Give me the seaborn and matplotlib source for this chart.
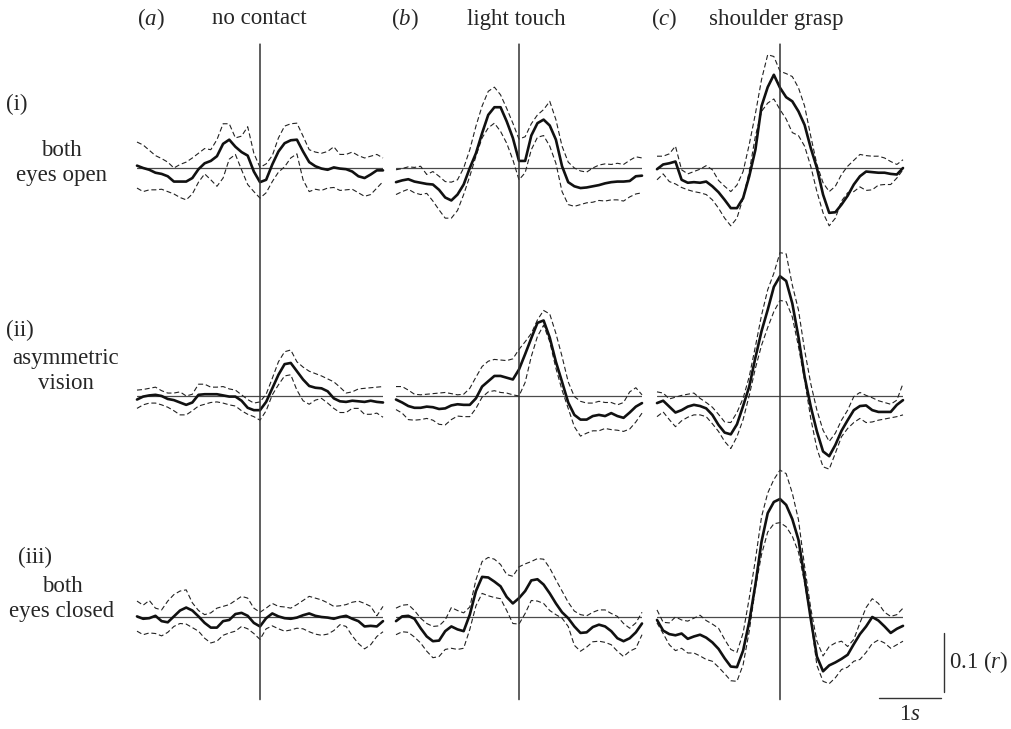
import numpy as np
import matplotlib
matplotlib.use('Agg')
import matplotlib.pyplot as plt
from matplotlib.patches import ConnectionPatch
import seaborn as sns

# lag axis, -2 s .. +2 s in 0.1 s steps
lags = np.round(np.linspace(-2, 2, 41), 1)

contacts = ['no contact', 'light touch', 'shoulder grasp']
contact_tags = ['a', 'b', 'c']
visions = ['both\neyes open', 'asymmetric\nvision', 'both\neyes closed']
vision_tags = ['(i)', '(ii)', '(iii)']

# correlation (r) per lag: mean and upper / lower confidence bounds
a_i_mean = [0.004, 0.000, -0.003, -0.008, -0.010, -0.014, -0.023, -0.023, -0.023, -0.017, -0.002, 0.008, 0.012, 0.020, 0.041, 0.048, 0.036, 0.027, 0.021, -0.006, -0.024, -0.020, 0.006, 0.028, 0.042, 0.047, 0.048, 0.028, 0.010, 0.003, -0.001, -0.003, 0.001, -0.001, -0.002, -0.006, -0.014, -0.017, -0.011, -0.004, -0.004]
a_i_hi = [0.044, 0.039, 0.030, 0.021, 0.016, 0.010, 0.000, 0.006, 0.010, 0.017, 0.025, 0.033, 0.031, 0.048, 0.075, 0.075, 0.051, 0.054, 0.070, 0.025, 0.001, 0.007, 0.021, 0.051, 0.071, 0.075, 0.076, 0.054, 0.031, 0.027, 0.025, 0.028, 0.036, 0.023, 0.023, 0.027, 0.021, 0.017, 0.020, 0.023, 0.017]
a_i_lo = [-0.034, -0.040, -0.037, -0.037, -0.036, -0.040, -0.044, -0.050, -0.054, -0.044, -0.024, -0.010, -0.020, -0.031, -0.017, 0.015, 0.023, -0.003, -0.028, -0.040, -0.051, -0.042, -0.023, -0.007, 0.002, 0.017, 0.024, -0.020, -0.040, -0.036, -0.038, -0.034, -0.033, -0.038, -0.037, -0.036, -0.042, -0.048, -0.045, -0.034, -0.023]

b_i_mean = [-0.024, -0.021, -0.019, -0.023, -0.025, -0.027, -0.028, -0.037, -0.050, -0.055, -0.045, -0.028, 0.000, 0.025, 0.059, 0.090, 0.103, 0.103, 0.079, 0.051, 0.012, 0.012, 0.055, 0.076, 0.082, 0.072, 0.048, 0.003, -0.024, -0.031, -0.034, -0.033, -0.031, -0.029, -0.026, -0.024, -0.023, -0.023, -0.022, -0.014, -0.013]
b_i_hi = [-0.003, -0.001, 0.002, 0.001, 0.003, -0.011, -0.006, -0.014, -0.023, -0.024, -0.020, 0.000, 0.031, 0.071, 0.105, 0.130, 0.137, 0.124, 0.101, 0.076, 0.049, 0.053, 0.075, 0.090, 0.099, 0.113, 0.082, 0.037, 0.010, 0.000, -0.005, -0.007, 0.000, 0.005, 0.007, 0.006, 0.008, 0.006, 0.013, 0.019, 0.017]
b_i_lo = [-0.045, -0.040, -0.036, -0.042, -0.045, -0.043, -0.056, -0.071, -0.085, -0.085, -0.072, -0.045, -0.014, 0.020, 0.051, 0.068, 0.076, 0.062, 0.042, 0.014, -0.020, -0.008, 0.031, 0.052, 0.055, 0.037, 0.008, -0.040, -0.062, -0.065, -0.062, -0.059, -0.058, -0.055, -0.056, -0.054, -0.054, -0.056, -0.049, -0.044, -0.042]

c_i_mean = [-0.002, 0.006, 0.008, 0.011, -0.020, -0.025, -0.024, -0.025, -0.023, -0.031, -0.041, -0.054, -0.068, -0.068, -0.051, -0.014, 0.031, 0.105, 0.137, 0.158, 0.136, 0.120, 0.113, 0.096, 0.073, 0.034, 0.000, -0.045, -0.076, -0.075, -0.062, -0.047, -0.028, -0.014, -0.006, -0.007, -0.008, -0.008, -0.010, -0.011, 0.000]
c_i_hi = [0.020, 0.020, 0.024, 0.037, -0.003, -0.010, -0.006, -0.002, 0.004, -0.003, -0.021, -0.031, -0.040, -0.029, -0.006, 0.040, 0.092, 0.150, 0.192, 0.189, 0.164, 0.160, 0.155, 0.136, 0.105, 0.054, 0.006, -0.025, -0.040, -0.031, -0.011, 0.003, 0.013, 0.023, 0.021, 0.020, 0.020, 0.017, 0.011, 0.006, 0.014]
c_i_lo = [-0.020, -0.010, -0.023, -0.027, -0.033, -0.037, -0.040, -0.042, -0.045, -0.054, -0.068, -0.085, -0.098, -0.085, -0.051, -0.006, 0.054, 0.096, 0.110, 0.117, 0.099, 0.083, 0.060, 0.055, 0.037, 0.003, -0.040, -0.076, -0.098, -0.085, -0.056, -0.042, -0.040, -0.032, -0.038, -0.037, -0.029, -0.028, -0.028, -0.017, -0.003]

a_ii_mean = [-0.006, -0.001, 0.001, 0.002, 0.000, -0.005, -0.007, -0.011, -0.015, -0.011, 0.002, 0.003, 0.003, 0.003, 0.001, -0.001, -0.001, -0.008, -0.020, -0.024, -0.024, -0.010, 0.013, 0.036, 0.054, 0.056, 0.042, 0.028, 0.017, 0.014, 0.013, 0.008, -0.004, -0.009, -0.010, -0.008, -0.009, -0.010, -0.008, -0.010, -0.011]
a_ii_hi = [0.010, 0.011, 0.013, 0.015, 0.009, 0.005, 0.005, 0.007, 0.000, 0.003, 0.020, 0.020, 0.015, 0.015, 0.016, 0.012, 0.010, 0.002, -0.006, -0.012, -0.010, 0.003, 0.030, 0.058, 0.075, 0.078, 0.058, 0.049, 0.042, 0.038, 0.034, 0.029, 0.024, 0.015, 0.005, 0.007, 0.012, 0.013, 0.014, 0.015, 0.016]
a_ii_lo = [-0.021, -0.015, -0.012, -0.012, -0.015, -0.019, -0.025, -0.032, -0.032, -0.025, -0.017, -0.014, -0.011, -0.010, -0.012, -0.015, -0.017, -0.025, -0.031, -0.035, -0.041, -0.025, 0.002, 0.019, 0.034, 0.036, 0.010, -0.008, -0.014, -0.007, -0.004, -0.012, -0.021, -0.028, -0.028, -0.021, -0.021, -0.031, -0.031, -0.029, -0.036]

b_ii_mean = [-0.006, -0.011, -0.017, -0.020, -0.020, -0.018, -0.019, -0.022, -0.021, -0.016, -0.014, -0.015, -0.015, -0.004, 0.016, 0.025, 0.034, 0.034, 0.031, 0.028, 0.045, 0.071, 0.098, 0.124, 0.128, 0.099, 0.058, 0.024, -0.011, -0.032, -0.040, -0.040, -0.034, -0.032, -0.034, -0.029, -0.034, -0.037, -0.028, -0.018, -0.012]
b_ii_hi = [0.016, 0.016, 0.010, 0.003, 0.002, 0.003, 0.004, 0.005, 0.006, 0.004, 0.002, 0.003, 0.013, 0.032, 0.050, 0.059, 0.062, 0.061, 0.060, 0.063, 0.079, 0.092, 0.106, 0.129, 0.145, 0.139, 0.106, 0.067, 0.024, -0.001, -0.009, -0.012, -0.012, -0.009, -0.011, -0.011, -0.015, -0.011, 0.007, 0.014, 0.002]
b_ii_lo = [-0.023, -0.029, -0.040, -0.041, -0.040, -0.038, -0.041, -0.048, -0.049, -0.040, -0.034, -0.035, -0.035, -0.021, -0.002, 0.007, 0.009, 0.006, 0.005, 0.002, 0.000, 0.023, 0.067, 0.101, 0.120, 0.092, 0.047, 0.010, -0.021, -0.052, -0.068, -0.063, -0.059, -0.059, -0.055, -0.057, -0.058, -0.060, -0.056, -0.044, -0.029]

c_ii_mean = [-0.012, -0.008, -0.018, -0.028, -0.024, -0.018, -0.015, -0.017, -0.021, -0.032, -0.049, -0.062, -0.065, -0.048, -0.017, 0.016, 0.065, 0.110, 0.146, 0.185, 0.203, 0.195, 0.157, 0.100, 0.033, -0.018, -0.060, -0.094, -0.102, -0.083, -0.059, -0.041, -0.024, -0.017, -0.016, -0.024, -0.027, -0.027, -0.027, -0.015, -0.007]
c_ii_hi = [0.007, 0.005, -0.005, -0.002, 0.001, 0.003, 0.005, -0.004, -0.011, -0.019, -0.031, -0.044, -0.045, -0.028, -0.004, 0.033, 0.084, 0.137, 0.180, 0.208, 0.243, 0.241, 0.188, 0.146, 0.078, 0.021, -0.024, -0.058, -0.077, -0.063, -0.041, -0.024, -0.001, 0.006, 0.001, -0.003, -0.008, -0.011, -0.014, -0.007, 0.021]
c_ii_lo = [-0.035, -0.027, -0.040, -0.052, -0.042, -0.036, -0.032, -0.032, -0.035, -0.047, -0.060, -0.077, -0.089, -0.069, -0.040, 0.001, 0.047, 0.086, 0.116, 0.143, 0.162, 0.160, 0.134, 0.084, 0.027, -0.038, -0.089, -0.120, -0.124, -0.097, -0.069, -0.055, -0.045, -0.038, -0.045, -0.044, -0.041, -0.039, -0.037, -0.035, -0.032]

a_iii_mean = [0.001, -0.003, -0.002, 0.002, -0.007, -0.009, 0.001, 0.011, 0.016, 0.011, 0.001, -0.010, -0.018, -0.018, -0.007, -0.005, 0.005, 0.007, 0.002, -0.010, -0.016, -0.002, 0.006, 0.001, -0.002, -0.003, -0.001, 0.003, 0.006, 0.002, 0.000, -0.001, -0.003, 0.000, 0.002, -0.003, -0.007, -0.016, -0.015, -0.016, -0.007]
a_iii_hi = [0.027, 0.020, 0.028, 0.015, 0.012, 0.027, 0.038, 0.044, 0.046, 0.024, 0.011, 0.004, 0.007, 0.015, 0.018, 0.021, 0.028, 0.035, 0.032, 0.015, 0.008, 0.015, 0.023, 0.018, 0.017, 0.015, 0.021, 0.028, 0.035, 0.032, 0.029, 0.024, 0.018, 0.019, 0.021, 0.025, 0.027, 0.023, 0.018, 0.002, 0.018]
a_iii_lo = [-0.024, -0.030, -0.027, -0.028, -0.032, -0.026, -0.016, -0.011, -0.012, -0.018, -0.024, -0.036, -0.044, -0.041, -0.031, -0.027, -0.024, -0.016, -0.020, -0.028, -0.038, -0.020, -0.015, -0.020, -0.024, -0.022, -0.019, -0.020, -0.025, -0.029, -0.031, -0.029, -0.023, -0.013, -0.016, -0.032, -0.045, -0.054, -0.047, -0.033, -0.025]

b_iii_mean = [-0.007, 0.001, 0.002, -0.003, -0.019, -0.033, -0.041, -0.040, -0.024, -0.016, -0.021, -0.024, 0.004, 0.044, 0.068, 0.067, 0.060, 0.052, 0.034, 0.023, 0.032, 0.044, 0.062, 0.064, 0.055, 0.040, 0.023, 0.008, -0.002, -0.016, -0.027, -0.026, -0.017, -0.013, -0.016, -0.024, -0.036, -0.041, -0.036, -0.026, -0.011]
b_iii_hi = [0.015, 0.020, 0.021, 0.011, -0.002, -0.011, -0.016, -0.015, -0.005, 0.016, 0.011, 0.007, 0.017, 0.063, 0.094, 0.101, 0.098, 0.089, 0.072, 0.069, 0.085, 0.090, 0.094, 0.099, 0.098, 0.083, 0.063, 0.044, 0.025, 0.010, 0.004, 0.002, 0.008, 0.012, 0.012, 0.006, 0.001, -0.011, -0.019, -0.010, 0.008]
b_iii_lo = [-0.030, -0.025, -0.026, -0.034, -0.044, -0.058, -0.069, -0.067, -0.055, -0.053, -0.055, -0.053, -0.021, 0.019, 0.040, 0.036, 0.033, 0.031, 0.011, -0.011, -0.012, 0.006, 0.028, 0.027, 0.023, 0.011, 0.004, -0.002, -0.016, -0.048, -0.058, -0.051, -0.042, -0.041, -0.043, -0.047, -0.058, -0.067, -0.058, -0.053, -0.030]

c_iii_mean = [-0.005, -0.023, -0.029, -0.031, -0.028, -0.037, -0.033, -0.030, -0.035, -0.043, -0.054, -0.070, -0.084, -0.085, -0.057, -0.008, 0.055, 0.128, 0.176, 0.195, 0.200, 0.190, 0.166, 0.131, 0.066, -0.003, -0.067, -0.092, -0.082, -0.077, -0.071, -0.064, -0.046, -0.029, -0.016, 0.000, -0.006, -0.016, -0.027, -0.020, -0.015]
c_iii_hi = [0.012, -0.009, -0.010, 0.000, -0.005, -0.007, -0.002, 0.003, -0.006, -0.012, -0.019, -0.038, -0.055, -0.060, -0.027, 0.032, 0.097, 0.170, 0.210, 0.233, 0.249, 0.243, 0.210, 0.165, 0.086, 0.015, -0.041, -0.066, -0.050, -0.044, -0.041, -0.050, -0.038, -0.010, 0.016, 0.031, 0.023, 0.008, 0.001, 0.004, 0.015]
c_iii_lo = [-0.010, -0.028, -0.047, -0.057, -0.053, -0.061, -0.061, -0.066, -0.072, -0.075, -0.085, -0.096, -0.108, -0.109, -0.081, -0.024, 0.049, 0.106, 0.144, 0.158, 0.160, 0.153, 0.137, 0.110, 0.058, -0.003, -0.082, -0.109, -0.113, -0.103, -0.089, -0.085, -0.075, -0.072, -0.060, -0.045, -0.039, -0.044, -0.053, -0.047, -0.041]

# rows = vision condition, columns = contact condition
panels = [
    [(a_i_mean, a_i_hi, a_i_lo), (b_i_mean, b_i_hi, b_i_lo), (c_i_mean, c_i_hi, c_i_lo)],
    [(a_ii_mean, a_ii_hi, a_ii_lo), (b_ii_mean, b_ii_hi, b_ii_lo), (c_ii_mean, c_ii_hi, c_ii_lo)],
    [(a_iii_mean, a_iii_hi, a_iii_lo), (b_iii_mean, b_iii_hi, b_iii_lo), (c_iii_mean, c_iii_hi, c_iii_lo)],
]

sns.set_style('white')
plt.rcParams['font.family'] = ['Liberation Serif', 'DejaVu Serif']
plt.rcParams['mathtext.fontset'] = 'custom'
plt.rcParams['mathtext.rm'] = 'Liberation Serif'
plt.rcParams['mathtext.it'] = 'Liberation Serif:italic'

W, H = 1011, 729
fig = plt.figure(figsize=(W / 100, H / 100), dpi=100)

YLIM = (-0.14, 0.21)
PX_PER_R = 590
col_left = [137, 396, 657]
col_w = 246
row_base = [168, 396, 617]
ax_h = (YLIM[1] - YLIM[0]) * PX_PER_R

axes = [[None] * 3 for _ in range(3)]
for r in range(3):
    top = row_base[r] - YLIM[1] * PX_PER_R
    for c in range(3):
        ax = fig.add_axes([col_left[c] / W, 1 - (top + ax_h) / H, col_w / W, ax_h / H])
        ax.set_xlim(-2, 2)
        ax.set_ylim(*YLIM)
        ax.axis('off')
        mean, hi, lo = panels[r][c]
        ax.axhline(0, color='#4a4a4a', lw=0.9, zorder=1)
        for bound in (hi, lo):
            sns.lineplot(x=lags, y=bound, ax=ax, color='#222222', lw=0.8,
                         linestyle='--', errorbar=None, clip_on=False)
            ax.lines[-1].set_dashes([4.5, 2.5])
        sns.lineplot(x=lags, y=mean, ax=ax, color='#111111', lw=1.9,
                     errorbar=None, clip_on=False, solid_joinstyle='round')
        axes[r][c] = ax

# zero-lag line through each whole column
for c in range(3):
    con = ConnectionPatch(xyA=(0, YLIM[1]), coordsA=axes[0][c].transData,
                          xyB=(0, YLIM[0]), coordsB=axes[2][c].transData,
                          color='#333333', lw=1.1)
    fig.add_artist(con)

FS = 16.5
# column headers
head_x = [(137, 212), (391, 467), (651, 709)]
for (xt, xn), tag, name in zip(head_x, contact_tags, contacts):
    fig.text(xt / W, 1 - 19 / H, '($%s$)' % tag, fontsize=FS, va='center', ha='left')
    fig.text(xn / W, 1 - 19 / H, name, fontsize=FS, va='center', ha='left')

# row labels
tag_pos = [(6, 104), (6, 330), (18, 557)]
name_pos = [(61, 163), (66, 371), (62, 599)]
for (tx, ty), (nx, ny), tag, name in zip(tag_pos, name_pos, vision_tags, visions):
    fig.text(tx / W, 1 - ty / H, tag, fontsize=FS, va='center', ha='left')
    fig.text(nx / W, 1 - ny / H, name, fontsize=FS, va='center', ha='center',
             linespacing=1.3)

# scale bars (0.1 r and 1 s) next to the bottom-right panel
ax = axes[2][2]
bar_x, bar_y0 = 2.67, -0.127
ax.plot([bar_x, bar_x], [bar_y0, bar_y0 + 0.1], color='#333333', lw=1.0, clip_on=False)
ax.plot([1.61, 1.61 + 1.0], [-0.137, -0.137], color='#333333', lw=1.0, clip_on=False)
ax.text(2.74, -0.077, '0.1 ($r$)', fontsize=FS, va='center', ha='left', clip_on=False)
ax.text(2.11, -0.166, '1$s$', fontsize=FS, va='center', ha='center', clip_on=False)

fig.savefig('out.png', dpi=100)
